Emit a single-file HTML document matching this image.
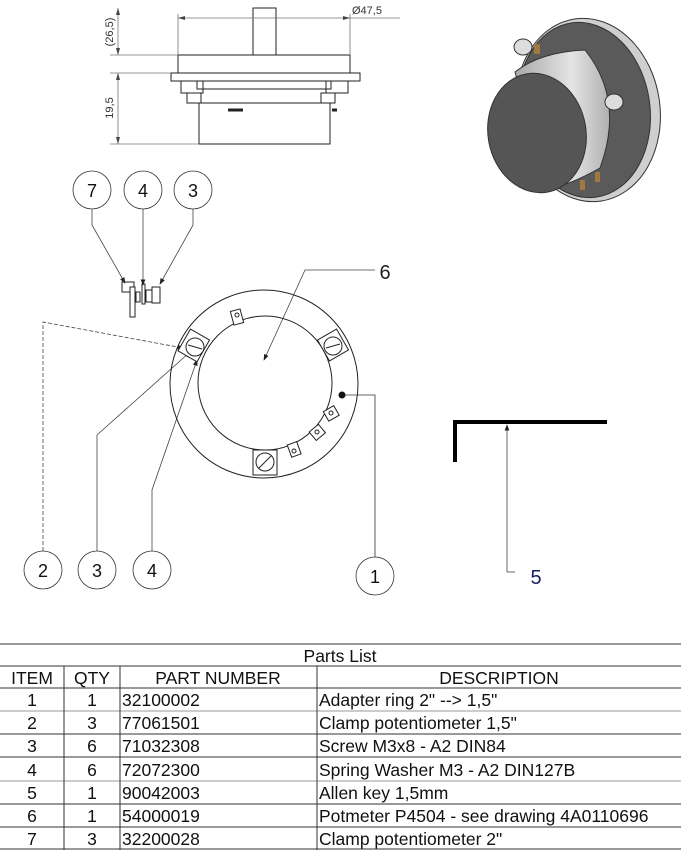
<!DOCTYPE html>
<html><head><meta charset="utf-8"><style>
html,body{margin:0;padding:0;background:#fff;}
svg{display:block;font-family:"Liberation Sans",sans-serif;}
</style></head><body>
<svg width="681" height="850" viewBox="0 0 681 850" xmlns="http://www.w3.org/2000/svg">
<defs>
<marker id="ar" markerWidth="8" markerHeight="6" refX="7" refY="3" orient="auto"><path d="M0,0 L8,3 L0,6 z" fill="#222"/></marker>
<linearGradient id="cyl" x1="0" y1="0" x2="1" y2="0"><stop offset="0" stop-color="#a8a8a8"/><stop offset="0.6" stop-color="#e4e4e4"/><stop offset="1" stop-color="#b0b0b0"/></linearGradient>
</defs>
<g stroke="#222" stroke-width="1" fill="none">
<rect x="253" y="8" width="23" height="47" fill="#fff"/>
<rect x="178" y="55" width="172" height="18" fill="#fff"/>
<rect x="171" y="73" width="189" height="8" fill="#fff"/>
<rect x="181" y="81" width="22" height="12"/><rect x="326" y="81" width="22" height="12"/>
<rect x="197" y="81" width="134" height="8"/>
<rect x="187" y="93" width="14" height="10"/><rect x="321" y="93" width="14" height="10"/>
<rect x="199" y="103" width="131" height="41" fill="#fff"/>
<line x1="228" y1="110" x2="243" y2="110" stroke-width="3"/>
<line x1="332" y1="110" x2="337" y2="110" stroke-width="3"/>
</g>
<g stroke="#777" stroke-width="0.8" fill="none">
<line x1="178" y1="14" x2="178" y2="55"/><line x1="350" y1="14" x2="350" y2="55"/>
<line x1="178" y1="18" x2="400" y2="18"/>
<line x1="110" y1="55" x2="178" y2="55"/><line x1="110" y1="73" x2="171" y2="73"/><line x1="110" y1="144" x2="199" y2="144"/>
<line x1="118" y1="8" x2="118" y2="55"/><line x1="118" y1="73" x2="118" y2="144"/>
</g>
<path d="M178,18 l7,-2 v4z M350,18 l-7,-2 v4z M118,8 l-2,7 h4z M118,55 l-2,-7 h4z M118,73 l-2,7 h4z M118,144 l-2,-7 h4z" fill="#444"/>
<text x="352" y="14" font-size="11" fill="#333">Ø47,5</text>
<text transform="translate(113,32) rotate(-90)" font-size="11" fill="#333" text-anchor="middle">(26,5)</text>
<text transform="translate(113,108) rotate(-90)" font-size="11" fill="#333" text-anchor="middle">19,5</text>

<g>
<ellipse cx="588" cy="110" rx="72" ry="92" transform="rotate(-8 588 110)" fill="#cfcfcf" stroke="#333"/>
<ellipse cx="584" cy="110" rx="66" ry="88" transform="rotate(-8 584 110)" fill="#5a5a5a" stroke="#333"/>
<path d="M515,72 Q540,52 585,50 Q625,100 600,168 Q570,185 545,190 Z" fill="url(#cyl)" stroke="#333"/>
<ellipse cx="537" cy="133" rx="49" ry="60" transform="rotate(-10 537 133)" fill="#555" stroke="#333"/>
<ellipse cx="523" cy="47" rx="9" ry="8" fill="#ddd" stroke="#333"/>
<ellipse cx="614" cy="102" rx="9" ry="8" fill="#ddd" stroke="#333"/>
<rect x="534" y="44" width="6" height="10" fill="#a07840"/>
<rect x="580" y="180" width="5" height="10" fill="#a07840"/><rect x="595" y="172" width="5" height="10" fill="#a07840"/>
</g>

<g stroke="#222" fill="#fff" stroke-width="1">
<rect x="122" y="282" width="12" height="10"/>
<rect x="130" y="287" width="5" height="30"/>
<rect x="136" y="292" width="4" height="10"/>
<rect x="142" y="284" width="3" height="20"/>
<rect x="146" y="290" width="6" height="12"/>
<rect x="152" y="287" width="8" height="16"/>
</g>

<g stroke="#333" fill="#fff" stroke-width="0.8">
<circle cx="92" cy="190" r="19"/><circle cx="143" cy="190" r="19"/><circle cx="193" cy="190" r="19"/>
<circle cx="43" cy="570" r="19"/><circle cx="97" cy="570" r="19"/><circle cx="152" cy="570" r="19"/><circle cx="375" cy="576" r="19"/>
</g>
<g font-size="18" text-anchor="middle" fill="#111">
<text x="92" y="197">7</text><text x="143" y="197">4</text><text x="193" y="197">3</text>
<text x="43" y="577">2</text><text x="97" y="577">3</text><text x="152" y="577">4</text><text x="375" y="583">1</text>
</g>
<g stroke="#444" stroke-width="0.8" fill="none" marker-end="url(#ar)">
<polyline points="92,209 92,225 125,283"/>
<polyline points="143,209 143,285"/>
<polyline points="193,209 193,225 160,284"/>
<polyline points="43,551 43,322 183,348" stroke-dasharray="4,2"/>
<polyline points="97,551 97,435 190,352"/>
<polyline points="152,551 152,490 197,360"/>
<polyline points="375,270 305,270 264,360"/>
<polyline points="507,572 507,425"/>
</g>
<polyline points="375,557 375,395 343,395" stroke="#333" stroke-width="0.8" fill="none"/>
<circle cx="342" cy="395" r="3.5" fill="#111"/>
<line x1="507" y1="572" x2="515" y2="572" stroke="#444" stroke-width="0.8"/>
<text x="385" y="279" font-size="20" fill="#222" text-anchor="middle">6</text>
<text x="536" y="584" font-size="20" fill="#1a1f5e" text-anchor="middle">5</text>

<g stroke="#222" fill="none" stroke-width="1">
<circle cx="264" cy="384" r="94"/>
<circle cx="265" cy="383" r="67"/>
<g fill="#fff">
<rect x="232" y="310" width="10" height="14" transform="rotate(-15 237 317)"/>
<rect x="325" y="408" width="12" height="11" transform="rotate(-30 331 413)"/>
<rect x="311" y="427" width="12" height="11" transform="rotate(-40 317 432)"/>
<rect x="289" y="443" width="10" height="13" transform="rotate(-20 294 449)"/>
<rect x="183" y="333" width="22" height="25" transform="rotate(30 194 345)"/>
<rect x="322" y="333" width="22" height="24" transform="rotate(-30 333 345)"/>
<rect x="253" y="450" width="24" height="25"/>
<circle cx="195" cy="347" r="9"/><circle cx="333" cy="346" r="9"/><circle cx="265" cy="462" r="9"/>
</g>
<circle cx="237" cy="315" r="2"/><circle cx="331" cy="413" r="2"/><circle cx="317" cy="432" r="2"/><circle cx="294" cy="451" r="2"/>
<line x1="188" y1="345" x2="202" y2="349"/><line x1="326" y1="348" x2="340" y2="344"/><line x1="259" y1="468" x2="271" y2="456"/>
</g>

<path d="M455,462 V422 H607" stroke="#000" stroke-width="4" fill="none"/>

<g stroke="#333" stroke-width="1" fill="none">
<line x1="0" y1="644" x2="681" y2="644"/>
<line x1="0" y1="666" x2="681" y2="666"/>
<line x1="0" y1="688" x2="681" y2="688"/>
<line x1="0" y1="711" x2="681" y2="711" stroke="#999"/>
<line x1="0" y1="734" x2="681" y2="734"/>
<line x1="0" y1="757" x2="681" y2="757"/>
<line x1="0" y1="781" x2="681" y2="781" stroke="#999"/>
<line x1="0" y1="804" x2="681" y2="804"/>
<line x1="0" y1="827" x2="681" y2="827"/>
<line x1="0" y1="849" x2="681" y2="849"/>
<line x1="64" y1="666" x2="64" y2="850"/>
<line x1="120" y1="666" x2="120" y2="850"/>
<line x1="317" y1="666" x2="317" y2="850"/>
</g>
<g font-size="17.5" fill="#111">
<text x="340" y="662" text-anchor="middle">Parts List</text>
<text x="32" y="684" text-anchor="middle">ITEM</text><text x="92" y="684" text-anchor="middle">QTY</text>
<text x="218" y="684" text-anchor="middle">PART NUMBER</text><text x="499" y="684" text-anchor="middle">DESCRIPTION</text>
<g text-anchor="middle">
<text x="32" y="706">1</text><text x="92" y="706">1</text>
<text x="32" y="729">2</text><text x="92" y="729">3</text>
<text x="32" y="752">3</text><text x="92" y="752">6</text>
<text x="32" y="776">4</text><text x="92" y="776">6</text>
<text x="32" y="799">5</text><text x="92" y="799">1</text>
<text x="32" y="822">6</text><text x="92" y="822">1</text>
<text x="32" y="845">7</text><text x="92" y="845">3</text>
</g>
<text x="122" y="706">32100002</text><text x="319" y="706">Adapter ring 2" --&gt; 1,5"</text>
<text x="122" y="729">77061501</text><text x="319" y="729">Clamp potentiometer 1,5"</text>
<text x="122" y="752">71032308</text><text x="319" y="752">Screw M3x8 - A2 DIN84</text>
<text x="122" y="776">72072300</text><text x="319" y="776">Spring Washer M3 - A2 DIN127B</text>
<text x="122" y="799">90042003</text><text x="319" y="799">Allen key 1,5mm</text>
<text x="122" y="822">54000019</text><text x="319" y="822">Potmeter P4504 - see drawing 4A0110696</text>
<text x="122" y="845">32200028</text><text x="319" y="845">Clamp potentiometer 2"</text>
</g>
</svg>
</body></html>
